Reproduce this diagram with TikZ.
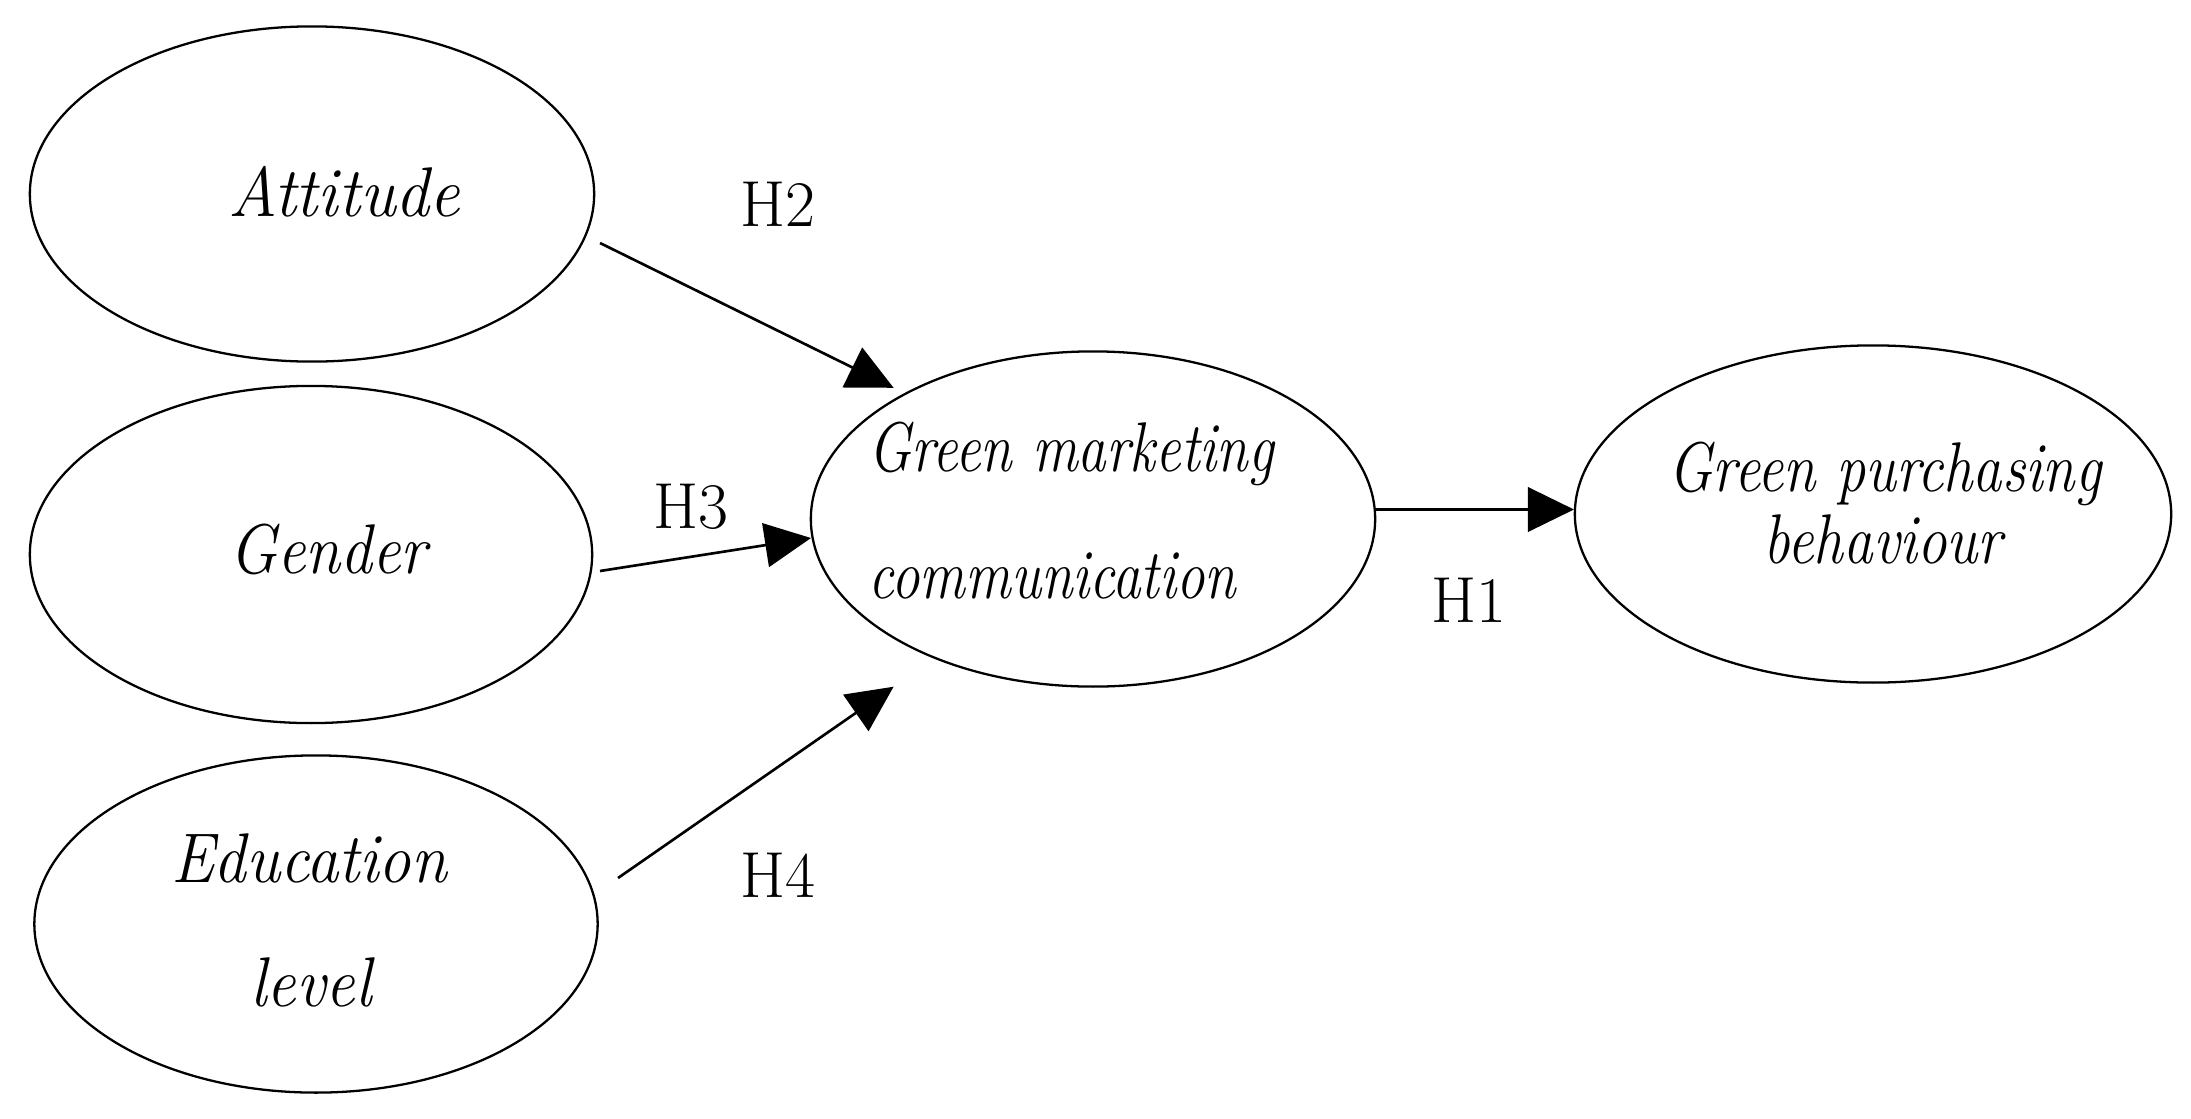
\documentclass[tikz,border=0pt]{standalone}
\usepackage{graphicx}
\usetikzlibrary{arrows.meta,calc,shapes.geometric}
\newcommand{\hsq}[2]{\scalebox{#1}[1]{#2}}
\begin{document}
\begin{tikzpicture}[x=0.01cm,y=-0.01cm,
  bubble/.style={draw, ellipse, line width=0.65pt, inner sep=0pt},
  lbl/.style={font=\fontsize{20}{24}\selectfont\itshape, inner sep=0pt, anchor=base},
  lblw/.style={lbl, anchor=base west},
  hyp/.style={font=\fontsize{18.5}{22}\selectfont, inner sep=0pt, anchor=base},
  arr/.style={line width=0.75pt, -{Triangle[length=0.46cm,width=0.44cm]}}]
\useasboundingbox[fill=white] (0,0) rectangle (2191,1118);
% ellipses
\node[bubble, minimum width=5.64cm, minimum height=3.35cm] (att) at (312,194) {};
\node[bubble, minimum width=5.62cm, minimum height=3.37cm] (gen) at (311,554.5) {};
\node[bubble, minimum width=5.63cm, minimum height=3.37cm] (edu) at (316,924) {};
\node[bubble, minimum width=5.64cm, minimum height=3.35cm] (gmc) at (1093,519) {};
\node[bubble, minimum width=5.96cm, minimum height=3.37cm] (gpb) at (1873,514) {};
% texts
\node[lbl] (tatt) at (344,216) {\hsq{0.96}{Attitude}};
\node[lbl] (tgen) at (328,573) {\hsq{0.9}{Gender}};
\node[lbl] (tedu1) at (309,882) {\hsq{0.92}{Education}};
\node[lbl] (tedu2) at (311,1006.5) {\hsq{0.93}{level}};
\node[lblw] (tgmc1) at (868,471) {\hsq{0.81}{Green marketing}};
\node[lblw] (tgmc2) at (868,598) {\hsq{0.81}{communication}};
\node[lbl] (tgpb1) at (1885,491) {\hsq{0.83}{Green purchasing}};
\node[lbl] (tgpb2) at (1883,563) {\hsq{0.84}{behaviour}};
% hypothesis labels
\node[hyp] (h2) at (778,226.5) {H2};
\node[hyp] (h3) at (691,528.6) {H3};
\node[hyp] (h4) at (778,897) {H4};
\node[hyp] (h1) at (1469,622) {H1};
% connectors
\draw[arr] ($(att.center)+(288,49)$) -- ($(gmc.center)+(-199.4,-131.2)$);
\draw[arr] ($(gen.center)+(289,16.5)$) -- ($(gmc.center)+(-282,19)$);
\draw[arr] ($(edu.center)+(302,-46)$) -- ($(gmc.center)+(-199.4,167.7)$);
\draw[arr, line width=1.1pt] ($(gmc.center)+(282,-9.5)$) -- ($(gpb.center)+(-299,-4.5)$);
\end{tikzpicture}
\end{document}
